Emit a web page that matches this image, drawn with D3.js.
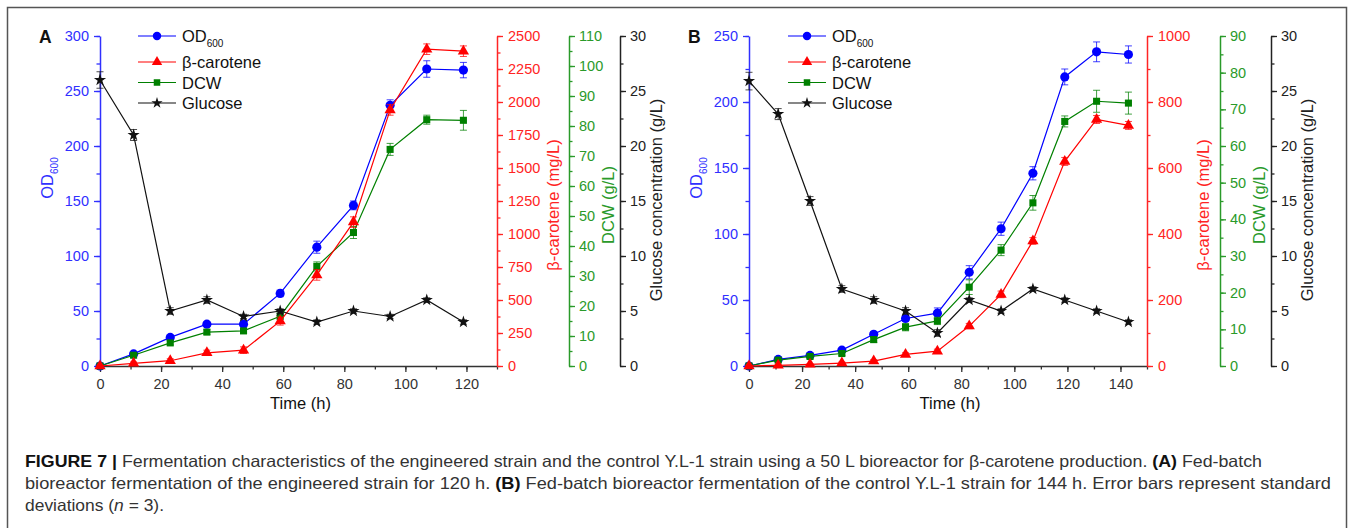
<!DOCTYPE html>
<html>
<head>
<meta charset="utf-8">
<script src="https://cdn.jsdelivr.net/npm/d3@7"></script>
<style>
  body { margin: 0; background: #fff; }
  svg { display: block; font-family: "Liberation Sans", Arial, sans-serif; }
  .caption { font-family: "Liberation Sans", Arial, sans-serif; font-size: 16.5px; fill: #333; }
  .caption .bold { font-weight: bold; fill: #111; }
</style>
</head>
<body>
<svg id="svg-figure" width="1358" height="528"></svg>
<script>
//////////////////////////////////////////////////////////////////////////////////////////
// Data
//////////////////////////////////////////////////////////////////////////////////////////

// Panel A: engineered strain, 120 h
const time_a = [0, 11, 23, 35, 47, 59, 71, 83, 95, 107, 119]
const od_a = [0, 11, 26, 38, 38, 66, 108, 146, 237, 270, 269]
const od_a_err = [0.5, 1, 1.5, 2, 2, 3, 5.5, 4, 5, 7.5, 7]
const car_a = [0, 20, 40, 100, 120, 340, 690, 1090, 1940, 2400, 2385]
const car_a_err = [5, 10, 15, 20, 25, 30, 40, 40, 40, 40, 40]
const dcw_a = [0, 3.6, 7.7, 11.3, 11.7, 16.6, 33.2, 44.5, 72.2, 82.1, 81.9]
const dcw_a_err = [0.3, 0.5, 0.7, 0.8, 0.8, 1, 1.5, 2, 2, 1.5, 3.3]
const glu_a = [26, 21, 5, 6, 4.5, 5, 4, 5, 4.5, 6, 4]
const glu_a_err = [0.75, 0.5, 0.3, 0.3, 0.2, 0.2, 0.2, 0.2, 0.2, 0.2, 0.2]

// Panel B: control Y.L-1 strain, 144 h
const time_b = [0, 11, 23, 35, 47, 59, 71, 83, 95, 107, 119, 131, 143]
const od_b = [0, 5, 8, 12, 24, 36, 40, 71, 104, 146, 219, 238, 236]
const od_b_err = [0.5, 0.5, 0.8, 1, 2, 2, 4, 5, 5, 5, 6, 7.5, 6.5]
const car_b = [0, 2, 5, 9, 15, 35, 45, 121, 217, 379, 620, 747, 729]
const car_b_err = [2, 2, 2, 3, 4, 5, 6, 8, 10, 10, 12, 12, 12]
const dcw_b = [0, 1.6, 2.6, 3.4, 7.2, 10.6, 12.3, 21.5, 31.6, 44.5, 66.7, 72.2, 71.7]
const dcw_b_err = [0.3, 0.3, 0.4, 0.5, 0.8, 1, 1, 2, 1.5, 2, 1.5, 3, 3]
const glu_b = [25.9, 22.9, 15, 7, 6, 5, 3, 6, 5, 7, 6, 5, 4]
const glu_b_err = [0.8, 0.5, 0.4, 0.3, 0.3, 0.3, 0.3, 0.2, 0.2, 0.2, 0.2, 0.2, 0.2]

// Axis ticks
const x_ticks_a = [0, 20, 40, 60, 80, 100, 120]
const x_ticks_b = [0, 20, 40, 60, 80, 100, 120, 140]
const od_ticks_a = [0, 50, 100, 150, 200, 250, 300]
const od_ticks_b = [0, 50, 100, 150, 200, 250]
const car_ticks_a = [0, 250, 500, 750, 1000, 1250, 1500, 1750, 2000, 2250, 2500]
const car_ticks_b = [0, 200, 400, 600, 800, 1000]
const dcw_ticks_a = [0, 10, 20, 30, 40, 50, 60, 70, 80, 90, 100, 110]
const dcw_ticks_b = [0, 10, 20, 30, 40, 50, 60, 70, 80, 90]
const glu_ticks = [0, 5, 10, 15, 20, 25, 30]

const legend_labels = ['OD', 'β-carotene', 'DCW', 'Glucose']

//////////////////////////////////////////////////////////////////////////////////////////
// Look
//////////////////////////////////////////////////////////////////////////////////////////

const colors = {
  od: '#0000ff', car: '#ff0000', dcw: '#008000', glu: '#111111',
  od_axis: '#3030ff', car_axis: '#ff2424', dcw_axis: '#2a9a2a', glu_axis: '#222222', x_axis: '#333333'
}
const symbols = { od: d3.symbolCircle, car: d3.symbolTriangle, dcw: d3.symbolSquare, glu: d3.symbolStar }
const sym_sizes = { od: 66, car: 55, dcw: 50, glu: 46 }

const plot_top = 36
const plot_bottom = 366

const svg = d3.select('#svg-figure')

// outer frame
svg.append('rect')
  .attr('x', 7.5).attr('y', 7.5)
  .attr('width', 1339).attr('height', 540)
  .attr('fill', 'none')
  .attr('stroke', '#555')
  .attr('stroke-width', 1.5)

draw_panel({
  letter: 'A', x0: 100, x1: 497, x_max: 130,
  x_ticks: x_ticks_a, time: time_a,
  od: [od_a, od_a_err, 300, od_ticks_a, 25],
  car: [car_a, car_a_err, 2500, car_ticks_a, 125],
  dcw: [dcw_a, dcw_a_err, 110, dcw_ticks_a, 5],
  glu: [glu_a, glu_a_err, 30, glu_ticks, 2.5],
  dcw_axis_x: 569, glu_axis_x: 620, legend_x: 138
})

draw_panel({
  letter: 'B', x0: 749, x1: 1147, x_max: 150,
  x_ticks: x_ticks_b, time: time_b,
  od: [od_b, od_b_err, 250, od_ticks_b, 25],
  car: [car_b, car_b_err, 1000, car_ticks_b, 100],
  dcw: [dcw_b, dcw_b_err, 90, dcw_ticks_b, 5],
  glu: [glu_b, glu_b_err, 30, glu_ticks, 2.5],
  dcw_axis_x: 1220, glu_axis_x: 1271, legend_x: 788
})

write_caption()

//////////////////////////////////////////////////////////////////////////////////////////
// Panel
//////////////////////////////////////////////////////////////////////////////////////////

function minor_values(max, step) {
  const out = []
  for (let v = 0; v <= max + 1e-9; v += step) out.push(+v.toFixed(3))
  return out
}

function draw_panel(p) {
  const g = svg.append('g').attr('id', 'g-panel-' + p.letter)

  const x = d3.scaleLinear().domain([0, p.x_max]).range([p.x0, p.x1])
  const y = {}
  ;['od', 'car', 'dcw', 'glu'].forEach(k => {
    y[k] = d3.scaleLinear().domain([0, p[k][2]]).range([plot_bottom, plot_top])
  })

  // axes
  draw_axis(g, x, 'bottom', 0, plot_bottom, p.x_ticks, minor_values(p.x_max, 10), colors.x_axis, 7)
  draw_axis(g, y.od, 'left', p.x0, 0, p.od[3], minor_values(p.od[2], p.od[4]), colors.od_axis, 5)
  draw_axis(g, y.car, 'right', p.x1, 0, p.car[3], minor_values(p.car[2], p.car[4]), colors.car_axis, 5)
  draw_axis(g, y.dcw, 'right', p.dcw_axis_x, 0, p.dcw[3], minor_values(p.dcw[2], p.dcw[4]), colors.dcw_axis, 4)
  draw_axis(g, y.glu, 'right', p.glu_axis_x, 0, p.glu[3], minor_values(p.glu[2], p.glu[4]), colors.glu_axis, 4)

  // axis titles
  g.append('text')
    .attr('x', (p.x0 + p.x1) / 2 + 2).attr('y', 409)
    .attr('text-anchor', 'middle')
    .attr('font-size', 16.5).attr('fill', '#111')
    .text('Time (h)')

  const od_title = g.append('text')
    .attr('transform', `translate(${p.x0 - 53},178) rotate(-90)`)
    .attr('text-anchor', 'middle').attr('dy', '0.35em')
    .attr('font-size', 16.5).attr('fill', colors.od_axis)
  od_title.append('tspan').text('OD')
  od_title.append('tspan').attr('font-size', 10).attr('dy', 5).text('600')

  rot_title(g, p.x1 + 56, 205, 'β-carotene (mg/L)', colors.car_axis)
  rot_title(g, p.dcw_axis_x + 39, 205, 'DCW (g/L)', colors.dcw_axis)
  rot_title(g, p.glu_axis_x + 36, 200, 'Glucose concentration (g/L)', colors.glu_axis)

  // panel letter
  g.append('text')
    .attr('x', p.x0 - 61).attr('y', 43)
    .attr('font-size', 17.5).attr('font-weight', 'bold').attr('fill', '#111')
    .text(p.letter)

  // series
  ;['od', 'dcw', 'car', 'glu'].forEach(k => {
    const data = p.time.map((t, i) => ({ t: t, v: p[k][0][i], e: p[k][1][i] }))
    const ys = y[k]
    const sg = g.append('g').attr('class', 'series-' + k)

    sg.append('path')
      .datum(data)
      .attr('fill', 'none')
      .attr('stroke', colors[k])
      .attr('stroke-width', 1.2)
      .attr('d', d3.line().x(d => x(d.t)).y(d => ys(d.v)))

    // error bars
    const eb = sg.selectAll('g.err').data(data).join('g').attr('class', 'err')
      .attr('stroke', colors[k]).attr('stroke-opacity', 0.75).attr('stroke-width', 1)
    eb.append('line')
      .attr('x1', d => x(d.t)).attr('x2', d => x(d.t))
      .attr('y1', d => ys(d.v - d.e)).attr('y2', d => ys(d.v + d.e))
    eb.append('line')
      .attr('x1', d => x(d.t) - 3.5).attr('x2', d => x(d.t) + 3.5)
      .attr('y1', d => ys(d.v + d.e)).attr('y2', d => ys(d.v + d.e))
    eb.append('line')
      .attr('x1', d => x(d.t) - 3.5).attr('x2', d => x(d.t) + 3.5)
      .attr('y1', d => ys(d.v - d.e)).attr('y2', d => ys(d.v - d.e))

    sg.selectAll('path.mark').data(data).join('path')
      .attr('class', 'mark')
      .attr('transform', d => `translate(${x(d.t)},${ys(d.v)})`)
      .attr('d', d3.symbol().type(symbols[k]).size(sym_sizes[k]))
      .attr('fill', colors[k])
  })

  // legend
  const legend_keys = ['od', 'car', 'dcw', 'glu']
  const legend_y = [36, 62, 82.5, 103]
  const lg = g.append('g').attr('class', 'legend')
  legend_keys.forEach((k, i) => {
    const ly = legend_y[i]
    lg.append('line')
      .attr('x1', p.legend_x).attr('x2', p.legend_x + 38)
      .attr('y1', ly).attr('y2', ly)
      .attr('stroke', colors[k]).attr('stroke-width', 1.2)
    lg.append('path')
      .attr('transform', `translate(${p.legend_x + 19},${ly})`)
      .attr('d', d3.symbol().type(symbols[k]).size(sym_sizes[k] * 0.85))
      .attr('fill', colors[k])
    const t = lg.append('text')
      .attr('x', p.legend_x + 44).attr('y', ly + 6)
      .attr('font-size', 16.5).attr('fill', '#111')
    t.append('tspan').text(legend_labels[i])
    if (k == 'od') t.append('tspan').attr('font-size', 10).attr('dy', 5).text('600')
  })
}

function rot_title(g, x, y, text, color) {
  g.append('text')
    .attr('transform', `translate(${x},${y}) rotate(-90)`)
    .attr('text-anchor', 'middle').attr('dy', '0.35em')
    .attr('font-size', 16.5).attr('fill', color)
    .text(text)
}

function draw_axis(g, scale, orient, tx, ty, major, minor, color, pad) {
  const make = orient == 'left' ? d3.axisLeft : orient == 'right' ? d3.axisRight : d3.axisBottom

  // minor ticks
  g.append('g')
    .attr('transform', `translate(${tx},${ty})`)
    .call(make(scale).tickValues(minor).tickSize(3.5).tickFormat('').tickSizeOuter(0))
    .call(a => a.select('.domain').remove())
    .selectAll('line').attr('stroke', color).attr('stroke-width', 1.3)

  // major ticks + labels
  const ax = g.append('g')
    .attr('transform', `translate(${tx},${ty})`)
    .call(make(scale).tickValues(major).tickSize(6).tickPadding(pad).tickSizeOuter(0).tickFormat(d3.format('d')))
  ax.attr('font-family', null).attr('font-size', 14.5)
  ax.select('.domain').attr('stroke', color).attr('stroke-width', 1.5)
  ax.selectAll('line').attr('stroke', color).attr('stroke-width', 1.3)
  ax.selectAll('text').attr('fill', color)
}

//////////////////////////////////////////////////////////////////////////////////////////
// Caption
//////////////////////////////////////////////////////////////////////////////////////////

function write_caption() {
  const lines = [
    [['FIGURE 7 | ', 'bold'], ['Fermentation characteristics of the engineered strain and the control Y.L-1 strain using a 50 L bioreactor for β-carotene production. ', ''], ['(A)', 'bold'], [' Fed-batch', '']],
    [['bioreactor fermentation of the engineered strain for 120 h. ', ''], ['(B)', 'bold'], [' Fed-batch bioreactor fermentation of the control Y.L-1 strain for 144 h. Error bars represent standard', '']],
    [['deviations (', ''], ['n', 'italic'], [' = 3).', '']]
  ]
  const widths = [1237, 1306, 139]
  const base_y = [467, 489, 511]

  const cg = svg.append('g').attr('class', 'caption')
  lines.forEach((parts, i) => {
    const t = cg.append('text').attr('x', 25).attr('y', base_y[i])
    parts.forEach(pt => {
      const s = t.append('tspan').text(pt[0])
      if (pt[1] == 'bold') s.attr('class', 'bold')
      if (pt[1] == 'italic') s.attr('font-style', 'italic')
    })
    t.attr('textLength', widths[i]).attr('lengthAdjust', 'spacingAndGlyphs')
  })
}
</script>
</body>
</html>
